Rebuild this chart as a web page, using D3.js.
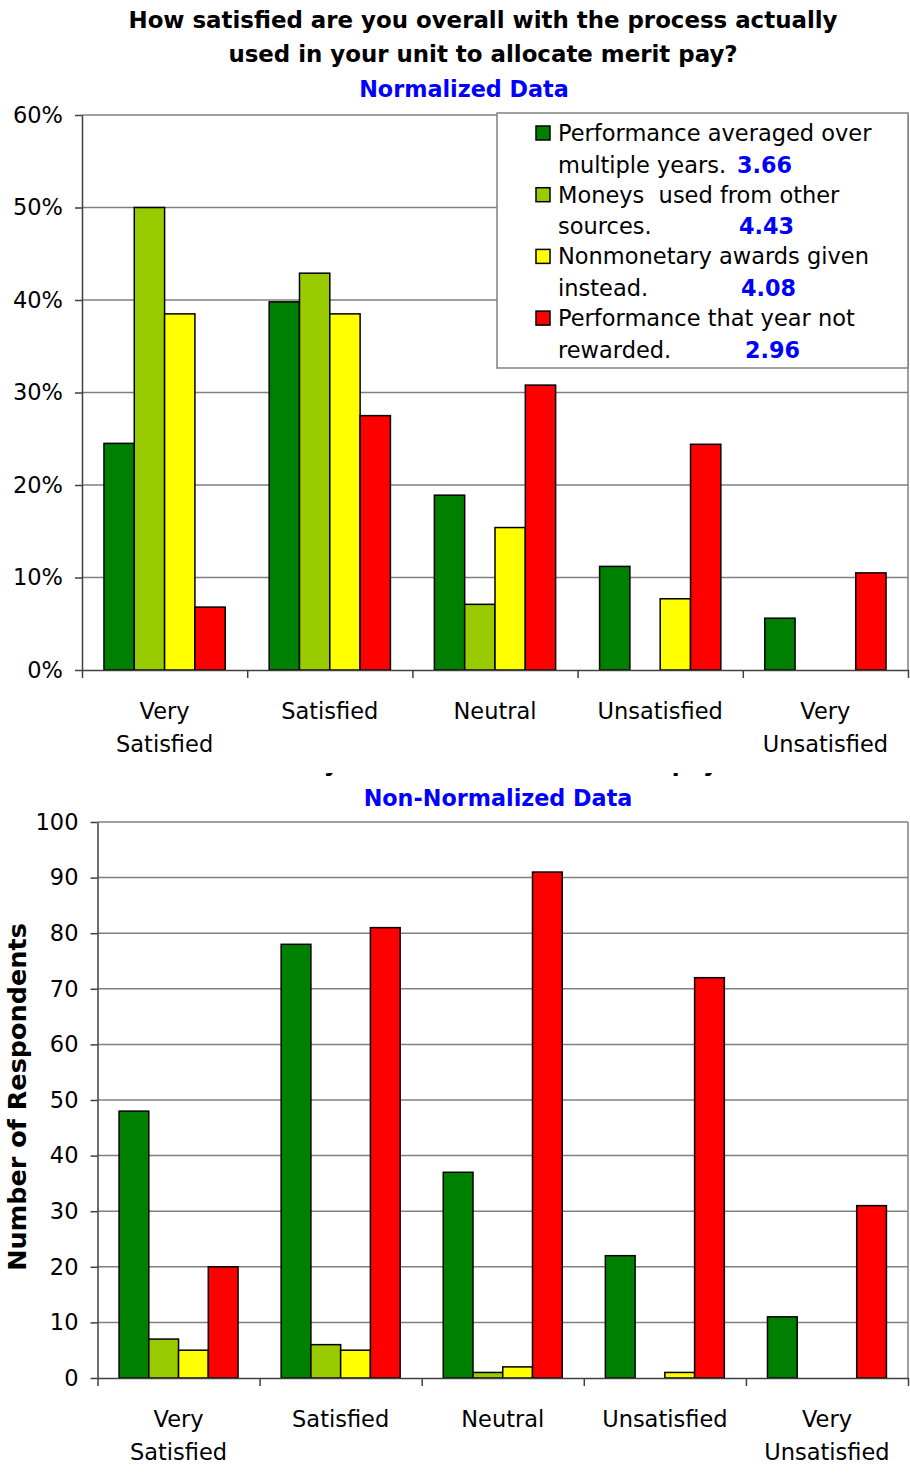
<!DOCTYPE html>
<html>
<head>
<meta charset="utf-8">
<title>Merit pay allocation satisfaction</title>
<style>
  body { margin: 0; background: #fff; }
  svg text { font-family: "DejaVu Sans", Verdana, sans-serif; }
</style>
<script src="https://d3js.org/d3.v7.min.js"></script>
</head>
<body>
<svg id="chart" width="910" height="1473"></svg>
<script>
const categories = ["Very Satisfied", "Satisfied", "Neutral", "Unsatisfied", "Very Unsatisfied"];
const seriesLabels = [
  ["Performance averaged over", "multiple years."],
  ["Moneys  used from other", "sources."],
  ["Nonmonetary awards given", "instead."],
  ["Performance that year not", "rewarded."]
];
const seriesMeans = ["3.66", "4.43", "4.08", "2.96"];
const seriesColors = ["#008000", "#99cc00", "#ffff00", "#ff0000"];

// normalized: percent of each series' respondents
const pctAveraged     = [24.5, 39.8, 18.9, 11.2, 5.6];
const pctOtherSources = [50.0, 42.9, 7.1, 0, 0];
const pctNonmonetary  = [38.5, 38.5, 15.4, 7.7, 0];
const pctNotRewarded  = [6.8, 27.5, 30.8, 24.4, 10.5];

// raw counts
const cntAveraged     = [48, 78, 37, 22, 11];
const cntOtherSources = [7, 6, 1, 0, 0];
const cntNonmonetary  = [5, 5, 2, 1, 0];
const cntNotRewarded  = [20, 81, 91, 72, 31];

const pctTicks = [0, 10, 20, 30, 40, 50, 60];
const cntTicks = [0, 10, 20, 30, 40, 50, 60, 70, 80, 90, 100];

const titleLines = ["How satisfied are you overall with the process actually",
                    "used in your unit to allocate merit pay?"];

const svg = d3.select("#chart");
const FS = 22.5;

function drawChart(opt) {
  const g = svg.append("g");
  const x0 = d3.scaleBand().domain(categories).range([opt.left, opt.right]);
  const bw = x0.bandwidth();
  const x1 = d3.scaleBand().domain(d3.range(opt.series.length)).range([bw * 0.133, bw * 0.867]);
  const y = d3.scaleLinear().domain([0, d3.max(opt.ticks)]).range([opt.bottom, opt.top]);

  // gridlines + right edge of plot area
  g.append("g").selectAll("line").data(opt.ticks.filter(t => t > 0)).join("line")
    .attr("x1", opt.left).attr("x2", opt.right)
    .attr("y1", d => y(d)).attr("y2", d => y(d))
    .attr("stroke", "#808080").attr("stroke-width", 1.5);
  g.append("line")
    .attr("x1", opt.right).attr("x2", opt.right).attr("y1", opt.top).attr("y2", opt.bottom)
    .attr("stroke", "#808080").attr("stroke-width", 1.5);

  // bars
  const rows = categories.map((c, i) => ({ cat: c, vals: opt.series.map((s, k) => ({ k, v: s[i] })) }));
  g.append("g").selectAll("g").data(rows).join("g")
    .attr("transform", d => `translate(${x0(d.cat)},0)`)
    .selectAll("rect").data(d => d.vals.filter(e => e.v > 0)).join("rect")
      .attr("x", d => x1(d.k))
      .attr("width", x1.bandwidth())
      .attr("y", d => y(d.v))
      .attr("height", d => y(0) - y(d.v))
      .attr("fill", d => seriesColors[d.k])
      .attr("stroke", "#000").attr("stroke-width", 1.5);

  // y axis
  const ya = g.append("g").attr("transform", `translate(${opt.left},0)`)
    .call(d3.axisLeft(y).tickValues(opt.ticks).tickSize(7).tickSizeOuter(0).tickPadding(12).tickFormat(opt.fmt));
  ya.select(".domain").attr("stroke", "#404040").attr("stroke-width", 1.5);
  ya.selectAll(".tick line").attr("stroke", "#404040").attr("stroke-width", 1.5);
  ya.selectAll(".tick text").attr("font-size", FS).attr("fill", "#000")
    .attr("font-family", "DejaVu Sans, sans-serif");

  // x axis with ticks on category boundaries
  const xEdge = d3.scaleLinear().domain([0, categories.length]).range([opt.left, opt.right]);
  const xa = g.append("g").attr("transform", `translate(0,${opt.bottom})`)
    .call(d3.axisBottom(xEdge).tickValues(d3.range(categories.length + 1)).tickSize(8).tickSizeOuter(0).tickFormat(""));
  xa.select(".domain").attr("stroke", "#404040").attr("stroke-width", 1.5);
  xa.selectAll(".tick line").attr("stroke", "#404040").attr("stroke-width", 1.5);

  // category labels
  g.append("g").selectAll("text").data(categories).join("text")
    .attr("text-anchor", "middle").attr("font-size", FS)
    .each(function (c) {
      const lines = c.startsWith("Very ") ? ["Very", c.slice(5)] : [c];
      d3.select(this).selectAll("tspan").data(lines).join("tspan")
        .attr("x", x0(c) + bw / 2)
        .attr("y", (d, i) => opt.bottom + 49 + i * 33)
        .text(d => d);
    });

  return g;
}

// ---- bottom chart first (its title is mostly hidden behind the top chart) ----
svg.append("clipPath").attr("id", "peek")
  .append("rect").attr("x", 0).attr("y", 773).attr("width", 910).attr("height", 10);
svg.append("text").attr("clip-path", "url(#peek)")
  .attr("x", 476.5).attr("y", 771).attr("text-anchor", "middle")
  .attr("font-size", 22.9).attr("font-weight", "bold")
  .text(titleLines[1]);

drawChart({
  left: 97.5, right: 908, top: 822, bottom: 1378,
  ticks: cntTicks, fmt: d => d,
  series: [cntAveraged, cntOtherSources, cntNonmonetary, cntNotRewarded]
});

svg.append("text")
  .attr("text-anchor", "middle").attr("font-size", 22.3).attr("font-weight", "bold").attr("fill", "#0000ff")
  .attr("x", 498).attr("y", 806).text("Non-Normalized Data");

svg.append("text")
  .attr("transform", "translate(26,1097) rotate(-90)")
  .attr("text-anchor", "middle").attr("font-size", 25.5).attr("font-weight", "bold")
  .text("Number of Respondents");

// ---- top chart ----
drawChart({
  left: 82, right: 908, top: 115, bottom: 670,
  ticks: pctTicks, fmt: d => d + "%",
  series: [pctAveraged, pctOtherSources, pctNonmonetary, pctNotRewarded]
});

svg.append("g").selectAll("text").data(titleLines).join("text")
  .attr("text-anchor", "middle").attr("font-size", 22.9).attr("font-weight", "bold")
  .attr("x", 483).attr("y", (d, i) => 28 + i * 34)
  .text(d => d);

svg.append("text")
  .attr("text-anchor", "middle").attr("font-size", 22.3).attr("font-weight", "bold").attr("fill", "#0000ff")
  .attr("x", 464).attr("y", 97).text("Normalized Data");

// legend
const legend = svg.append("g");
legend.append("rect")
  .attr("x", 497).attr("y", 113).attr("width", 411).attr("height", 255)
  .attr("fill", "#fff").attr("stroke", "#808080").attr("stroke-width", 1.5);
const meanX = [737, 739, 741, 745];
const items = legend.selectAll("g.item").data(seriesLabels).join("g").attr("class", "item")
  .attr("transform", (d, i) => `translate(0,${141 + i * 61.7})`);
items.append("rect")
  .attr("x", 536).attr("y", -15).attr("width", 14).attr("height", 14)
  .attr("fill", (d, i) => seriesColors[i]).attr("stroke", "#000").attr("stroke-width", 1.5);
items.append("text")
  .attr("font-size", FS).style("white-space", "pre")
  .selectAll("tspan").data(d => d).join("tspan")
    .attr("x", 558).attr("y", (d, i) => i * 31.5)
    .text(d => d);
items.append("text")
  .attr("x", (d, i) => meanX[i]).attr("y", 31.5)
  .attr("font-size", 22.3).attr("font-weight", "bold").attr("fill", "#0000ff")
  .text((d, i) => seriesMeans[i]);
</script>
</body>
</html>
